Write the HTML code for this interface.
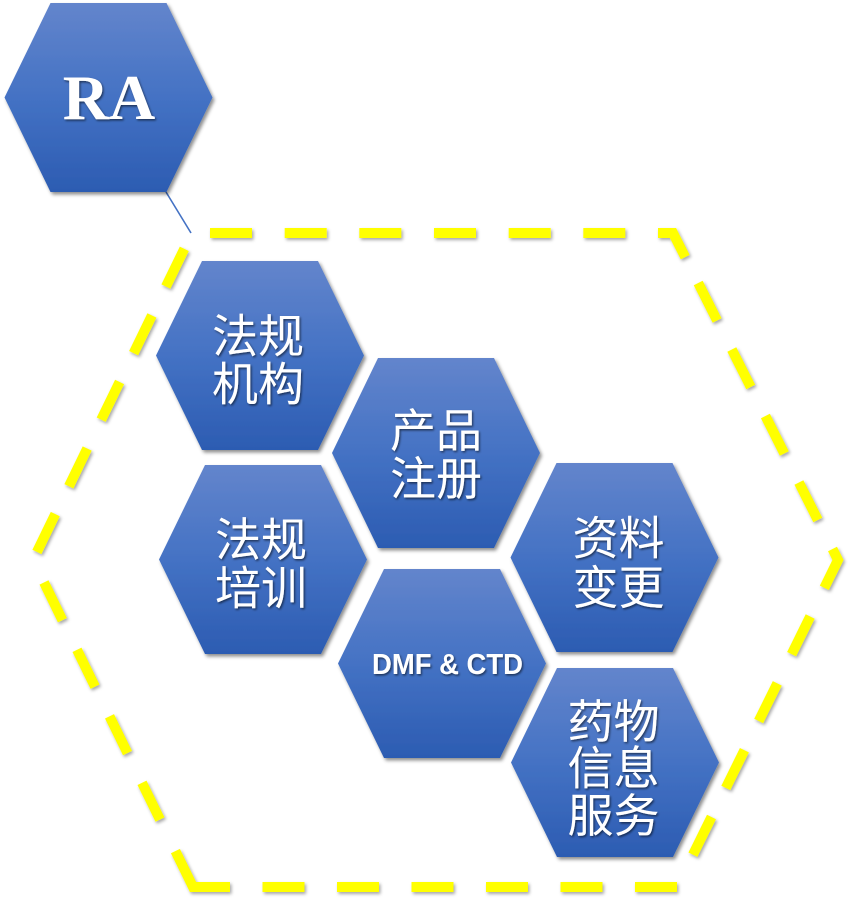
<!DOCTYPE html>
<html>
<head>
<meta charset="utf-8">
<style>
  html, body { margin: 0; padding: 0; background: #ffffff; }
  body { width: 850px; height: 900px; overflow: hidden; }
  svg { display: block; }
  .cjk { font-family: "Liberation Sans", "Noto Sans CJK SC", "WenQuanYi Zen Hei", sans-serif; font-size: 46px; fill: #ffffff; }
</style>
</head>
<body>
<svg width="850" height="900" viewBox="0 0 850 900" xmlns="http://www.w3.org/2000/svg">
  <defs>
    <linearGradient id="hg" x1="0" y1="0" x2="0" y2="1">
      <stop offset="0" stop-color="#6385cc"/>
      <stop offset="0.5" stop-color="#4472c4"/>
      <stop offset="1" stop-color="#2c5cb2"/>
    </linearGradient>
    <filter id="sh" x="-10%" y="-10%" width="125%" height="125%">
      <feDropShadow dx="2" dy="2.5" stdDeviation="1.8" flood-color="#000" flood-opacity="0.45"/>
    </filter>
    <filter id="ysh" x="-10%" y="-10%" width="120%" height="120%">
      <feDropShadow dx="1.5" dy="2" stdDeviation="1.5" flood-color="#000" flood-opacity="0.35"/>
    </filter>
    <filter id="tsh" x="-10%" y="-10%" width="130%" height="130%">
      <feDropShadow dx="1.2" dy="1.5" stdDeviation="1" flood-color="#000" flood-opacity="0.55"/>
    </filter>
  </defs>

  <!-- dashed yellow hexagon (explicit dashes) -->
  <path fill="none" stroke="#ffff00" stroke-width="10" stroke-linecap="butt" stroke-linejoin="miter" filter="url(#ysh)"
    d="M210,233 L252,233 M284.7,233 L326.7,233 M359.3,233 L401.3,233 M434,233 L476,233 M508.7,233 L550.7,233 M583.3,233 L625.3,233
       M658,233 L673,233 L685.2,257.1
       M698.2,283 L717.1,320.5 M731.8,349.5 L750.7,387 M765.4,416 L784.3,453.5 M798.9,482.5 L817.8,520
       M832.5,549 L838,560 L824.3,587.8
       M810.2,616.5 L791.6,654.2 M777.3,683.4 L758.7,721 M744.4,750.2 L725.8,787.9 M711.5,817 L692.9,854.7
       M677,887 L635,887 M602.5,887 L560.5,887 M528,887 L486,887 M453.5,887 L411.5,887 M379,887 L337,887 M304.5,887 L262.5,887
       M230,887 L193,887 L175.4,851.1
       M160,819.6 L142,782.8 M127.5,753.1 L109.5,716.3 M95,686.7 L77,649.8 M62.4,620.2 L44,582.4
       M36.9,551.9 L55.3,514.1 M68.9,486.3 L87.2,448.5 M101.2,419.7 L119.6,381.9 M133.6,353.2 L151.9,315.4 M165.9,286.6 L184.3,248.8"/>

  <!-- connector -->
  <line x1="166" y1="192" x2="191" y2="233" stroke="#4472c4" stroke-width="1.6"/>

  <!-- hexagons -->
  <g fill="url(#hg)" filter="url(#sh)">
    <polygon points="50.5,3 166.5,3 212.5,97.5 166.5,192 50.5,192 4.5,97.5"/>
    <polygon points="202,261 318,261 364,355.5 318,450 202,450 156,355.5"/>
    <polygon points="378,358 494,358 540,453 494,548 378,548 332,453"/>
    <polygon points="205,465 321,465 367,559.5 321,654 205,654 159,559.5"/>
    <polygon points="556.5,463 672.5,463 718.5,557.5 672.5,652 556.5,652 510.5,557.5"/>
    <polygon points="384,569 500,569 546,663.5 500,758 384,758 338,663.5"/>
    <polygon points="557,668 673,668 719,762.5 673,857 557,857 511,762.5"/>
  </g>

  <!-- labels -->
  <g filter="url(#tsh)">
    <text x="109" y="119" text-anchor="middle" font-family="'Liberation Serif', serif" font-weight="bold" font-size="64" fill="#ffffff">RA</text>

    <text class="cjk" text-anchor="middle" x="258" y="352.5">法规</text>
    <text class="cjk" text-anchor="middle" x="258" y="400.5">机构</text>

    <text class="cjk" text-anchor="middle" x="436" y="447">产品</text>
    <text class="cjk" text-anchor="middle" x="436" y="495">注册</text>

    <text class="cjk" text-anchor="middle" x="261" y="556">法规</text>
    <text class="cjk" text-anchor="middle" x="261" y="604.5">培训</text>

    <text class="cjk" text-anchor="middle" x="618.5" y="554.5">资料</text>
    <text class="cjk" text-anchor="middle" x="618.5" y="604">变更</text>

    <text class="cjk" text-anchor="middle" x="613.5" y="738">药物</text>
    <text class="cjk" text-anchor="middle" x="613.5" y="784.5">信息</text>
    <text class="cjk" text-anchor="middle" x="613.5" y="832">服务</text>

    <text x="372" y="674" font-family="'Liberation Sans', sans-serif" font-weight="bold" font-size="29" fill="#ffffff" textLength="151" lengthAdjust="spacingAndGlyphs">DMF &amp; CTD</text>
  </g>
</svg>
</body>
</html>
